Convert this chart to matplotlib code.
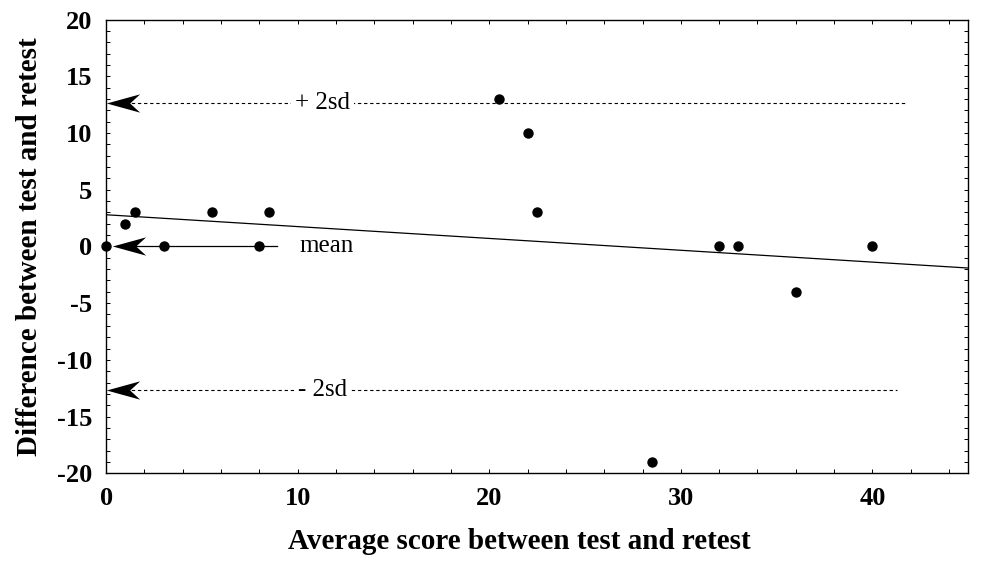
"""Bland-Altman style plot: test vs retest difference"""
import numpy as np
import matplotlib
matplotlib.use("Agg")
import matplotlib.pyplot as plt
from matplotlib.path import Path
from matplotlib.ticker import MultipleLocator

plt.rcParams["font.family"] = ["Liberation Serif", "DejaVu Serif"]
plt.rcParams["axes.unicode_minus"] = False

# data
avg_score  = [0, 1, 1.5, 3, 5.5, 8, 8.5, 20.5, 22, 22.5, 28.5, 32, 33, 36, 40]
difference = [0, 2, 3, 0, 3, 0, 3, 13, 10, 3, -19, 0, 0, -4, 0]

mean_diff  = 0.0
upper_sd   = 12.65
lower_sd   = -12.7
trend_x    = [0, 45]
trend_y    = [2.8, -1.9]

# notched arrow head pointing left
head = Path([(-1.0, 0.0), (1.0, 0.55), (0.4, 0.0), (1.0, -0.55), (-1.0, 0.0)],
            [Path.MOVETO, Path.LINETO, Path.LINETO, Path.LINETO, Path.CLOSEPOLY])

fig = plt.figure(figsize=(9.92, 5.66), dpi=100)
ax = fig.add_axes([0.107, 0.164, 0.869, 0.801])

# regression line
ax.plot(trend_x, trend_y, color="black", lw=0.9, zorder=2)

# limits of agreement
ax.plot([0.35, 41.7], [upper_sd, upper_sd], color="black", lw=0.8,
        dashes=(3, 2.5), zorder=2)
ax.plot([0.35, 41.3], [lower_sd, lower_sd], color="black", lw=0.8,
        dashes=(3, 2.5), zorder=2)
ax.plot([0.6, 8.9], [mean_diff, mean_diff], color="black", lw=0.9, zorder=2)

for yv, xv in [(upper_sd, 0.9), (lower_sd, 0.9), (mean_diff, 1.2)]:
    ax.plot([xv], [yv], marker=head, markersize=24, color="black",
            markeredgewidth=0, zorder=3, clip_on=False)

txt_box = dict(facecolor="white", edgecolor="none", pad=3)
ax.text(11.3, upper_sd, "+ 2sd", fontsize=18, ha="center", va="center",
        bbox=txt_box, zorder=4)
ax.text(11.3, lower_sd, "- 2sd", fontsize=18, ha="center", va="center",
        bbox=txt_box, zorder=4)
ax.text(11.5, mean_diff, "mean", fontsize=18, ha="center", va="center", zorder=4)

ax.scatter(avg_score, difference, s=42, color="black", zorder=5, clip_on=False)

ax.set_xlim(0, 45)
ax.set_ylim(-20, 20)
ax.set_xticks([0, 10, 20, 30, 40])
ax.set_yticks(np.arange(-20, 21, 5))
ax.xaxis.set_minor_locator(MultipleLocator(2))
ax.yaxis.set_minor_locator(MultipleLocator(1))
ax.tick_params(which="both", direction="in", top=True, right=True,
               length=3, width=0.7)
ax.tick_params(which="major", labelsize=19, pad=10)
for lbl in ax.get_xticklabels() + ax.get_yticklabels():
    lbl.set_fontweight("bold")
for s in ax.spines.values():
    s.set_linewidth(1.0)

ax.set_xlabel("Average score between test and retest", fontsize=21,
              fontweight="bold")
ax.xaxis.set_label_coords(0.479, -0.12)
ax.set_ylabel("Difference between test and retest", fontsize=21,
              fontweight="bold", labelpad=10)

fig.savefig("out.png", dpi=100)
